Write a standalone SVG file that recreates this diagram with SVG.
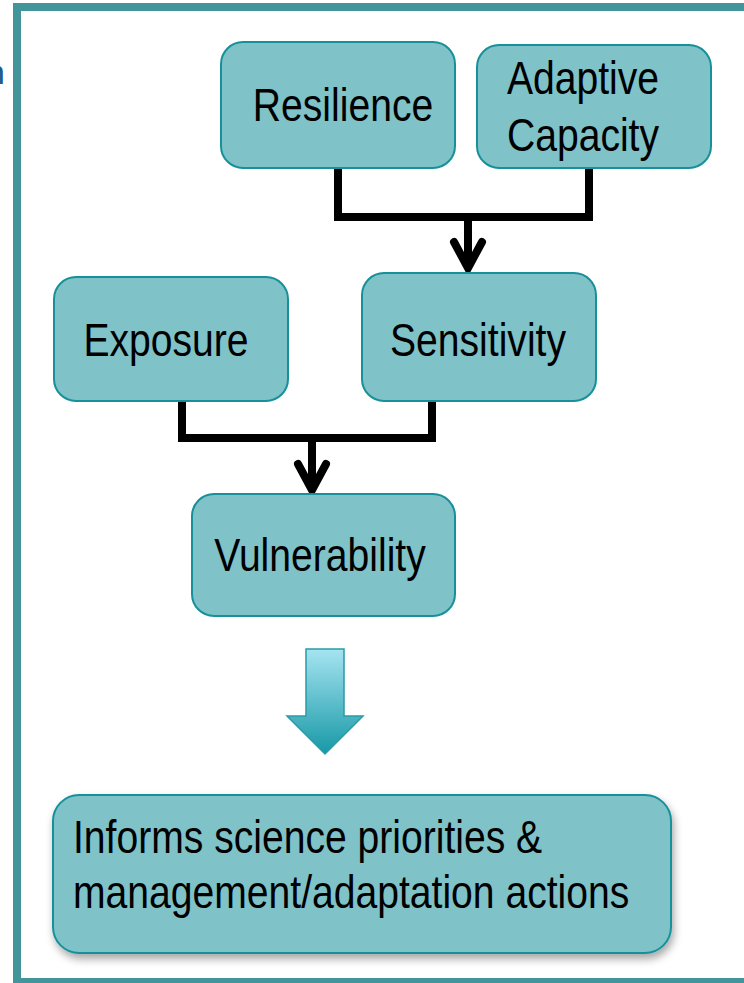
<svg xmlns="http://www.w3.org/2000/svg" width="744" height="983" viewBox="0 0 744 983">
<style>
.box{fill:#7fc2c8;stroke:#17909a;stroke-width:2}
.lbl{font-family:"Liberation Sans Narrow","Arial Narrow","Liberation Sans",sans-serif;font-size:46px;fill:#000}
.conn{fill:none;stroke:#000;stroke-width:8}
.head{fill:none;stroke:#000;stroke-width:8;stroke-linecap:round;stroke-linejoin:miter}
</style>
<defs>
<linearGradient id="ag" x1="0" y1="0" x2="0" y2="1">
<stop offset="0" stop-color="#a6e4f1"/>
<stop offset="1" stop-color="#1798a6"/>
</linearGradient>
<filter id="sh" x="-5%" y="-5%" width="110%" height="120%">
<feDropShadow dx="2" dy="5" stdDeviation="4" flood-color="#000" flood-opacity="0.35"/>
</filter>
</defs>
<rect width="744" height="983" fill="#fff"/>
<text x="-14" y="84" style="font-family:'Liberation Sans',sans-serif;font-size:34px;fill:#1f5a8a">n</text>
<rect id="frame" x="17" y="7" width="780" height="975" fill="none" stroke="#41959b" stroke-width="8"/>
<g id="connectors">
<path class="conn" d="M338 168V217M589 168V217M334 217H593M468 217V266"/>
<path class="head" d="M454 242L468 268L482 242"/>
<path class="conn" d="M182 401V438M432 401V438M178 438H436M312 438V488"/>
<path class="head" d="M298 464L312 490L326 464"/>
</g>
<g id="resilience">
<rect class="box" x="221" y="42" width="234" height="126" rx="22"/>
<text class="lbl" transform="translate(343 121) scale(0.85 1)" text-anchor="middle">Resilience</text>
</g>
<g id="adaptive-capacity">
<rect class="box" x="477" y="45" width="234" height="123" rx="22"/>
<text class="lbl" transform="translate(583 94) scale(0.85 1)" text-anchor="middle">Adaptive</text>
<text class="lbl" transform="translate(583 151) scale(0.85 1)" text-anchor="middle">Capacity</text>
</g>
<g id="exposure">
<rect class="box" x="54" y="277" width="234" height="124" rx="22"/>
<text class="lbl" transform="translate(166 356) scale(0.85 1)" text-anchor="middle">Exposure</text>
</g>
<g id="sensitivity">
<rect class="box" x="362" y="273" width="234" height="128" rx="22"/>
<text class="lbl" transform="translate(478 356) scale(0.85 1)" text-anchor="middle">Sensitivity</text>
</g>
<g id="vulnerability">
<rect class="box" x="192" y="494" width="263" height="122" rx="22"/>
<text class="lbl" transform="translate(320 571) scale(0.85 1)" text-anchor="middle">Vulnerability</text>
</g>
<g id="big-arrow">
<path d="M306 649H344V716H363L325 754L287 716H306Z" fill="url(#ag)" stroke="#2a9ca6" stroke-width="1.5"/>
</g>
<g id="informs">
<rect class="box" x="53" y="795" width="618" height="158" rx="26" filter="url(#sh)"/>
<text class="lbl" transform="translate(73 853) scale(0.85 1)">Informs science priorities &amp;</text>
<text class="lbl" transform="translate(73 908) scale(0.85 1)">management/adaptation actions</text>
</g>
</svg>
